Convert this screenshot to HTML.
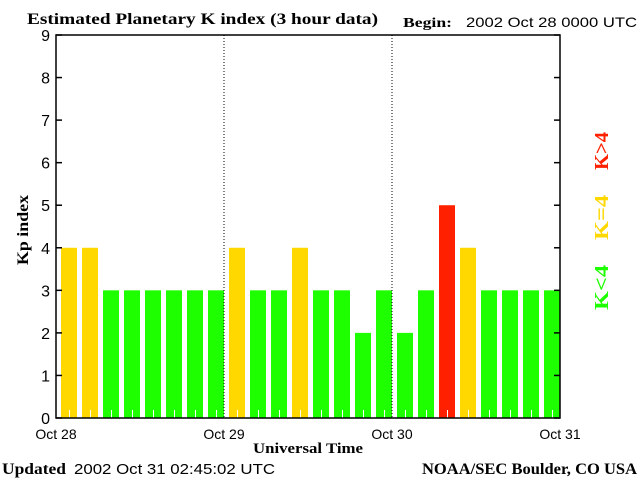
<!DOCTYPE html>
<html><head><meta charset="utf-8"><style>
body{margin:0;background:#fff;}
svg{display:block;}
.s{font-family:"Liberation Serif",serif;font-weight:bold;}
.n{font-family:"Liberation Sans",sans-serif;}
</style></head><body>
<svg id="c" width="640" height="480" xmlns="http://www.w3.org/2000/svg">
<text class="s" x="27" y="24" font-size="16" textLength="351" lengthAdjust="spacingAndGlyphs">Estimated Planetary K index (3 hour data)</text>
<text class="s" x="403" y="27" font-size="14" textLength="49" lengthAdjust="spacingAndGlyphs">Begin:</text>
<text class="n" x="466" y="27" font-size="14" textLength="171" lengthAdjust="spacingAndGlyphs">2002 Oct 28 0000 UTC</text>
<text class="s" x="0" y="0" font-size="16" transform="translate(28,230) rotate(-90)" text-anchor="middle" textLength="70" lengthAdjust="spacingAndGlyphs">Kp index</text>
<text class="s" x="253" y="453" font-size="15" textLength="110" lengthAdjust="spacingAndGlyphs">Universal Time</text>
<text class="s" x="2" y="474" font-size="16" textLength="64" lengthAdjust="spacingAndGlyphs">Updated</text>
<text class="n" x="74" y="474" font-size="15" textLength="201" lengthAdjust="spacingAndGlyphs">2002 Oct 31 02:45:02 UTC</text>
<text class="s" x="422" y="474" font-size="16" textLength="215" lengthAdjust="spacingAndGlyphs">NOAA/SEC Boulder, CO USA</text>
<g class="s" font-size="20">
<text transform="translate(608,170) rotate(-90)" textLength="38" lengthAdjust="spacingAndGlyphs" fill="#ff2000">K&gt;4</text>
<text transform="translate(608,240) rotate(-90)" textLength="45" lengthAdjust="spacingAndGlyphs" fill="#ffd800">K=4</text>
<text transform="translate(608,310) rotate(-90)" textLength="45" lengthAdjust="spacingAndGlyphs" fill="#1eff00">K&lt;4</text>
</g>
<g id="marks"></g>
</svg>
<script>
const kpValues=[4,4,3,3,3,3,3,3, 4,3,3,4,3,3,2,3, 2,3,5,4,3,3,3,3];
const yTicks=[0,1,2,3,4,5,6,7,8,9];
const dayLabels=["Oct 28","Oct 29","Oct 30","Oct 31"];
const L=56,R=560,T=35,B=418,ns="http://www.w3.org/2000/svg";
const y=v=>B-(B-T)*v/9;
const xDay=d=>L+(R-L)*d/(dayLabels.length-1);
const bw=(R-L)/kpValues.length;
const g=document.getElementById('marks');
function mk(t,a,txt){const e=document.createElementNS(ns,t);for(const k in a)e.setAttribute(k,a[k]);if(txt!==undefined)e.textContent=txt;g.appendChild(e);return e;}
kpValues.forEach((v,i)=>{
 const col=v>4?'#ff2000':(v==4?'#ffd800':'#1eff00');
 const b=mk('rect',{x:L+i*bw+5,y:y(v),width:bw-5,height:B-y(v),fill:col});
 
 
 const t=mk('line',{x1:L+i*bw+13.5,x2:L+i*bw+13.5,y1:B,y2:B-8,stroke:'#fff','stroke-width':1});
 
 
});
dayLabels.forEach((d,i)=>{
 const x=xDay(i);
 if(i>0&&i<dayLabels.length-1){const l=mk('line',{x1:x,x2:x,y1:T,y2:B,stroke:'#000','stroke-dasharray':'1,2'});
 
 }
 const t=mk('text',{x:x,y:439,'text-anchor':'middle','font-size':14,'class':'n'},d);
 
 
});
yTicks.forEach(v=>{
 const t=mk('text',{x:50,y:y(v)+6,'text-anchor':'end','font-size':16,'class':'n'},String(v));
 
 
 mk('line',{x1:L,x2:L+6,y1:y(v),y2:y(v),stroke:'#000','stroke-width':1.5});
 mk('line',{x1:R-6,x2:R,y1:y(v),y2:y(v),stroke:'#000','stroke-width':1.5});
});
const f=mk('rect',{x:L,y:T,width:R-L,height:B-T,fill:'none',stroke:'#000','stroke-width':1.5});


</script>
</body></html>
